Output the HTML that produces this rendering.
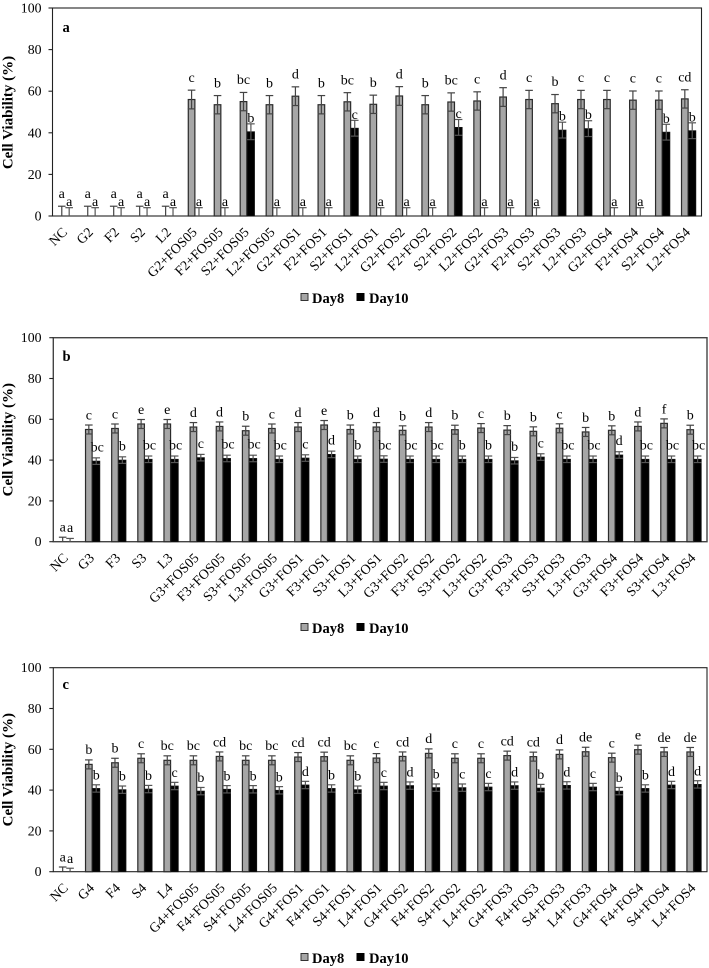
<!DOCTYPE html>
<html>
<head>
<meta charset="utf-8">
<title>Cell Viability</title>
<style>
html,body{margin:0;padding:0;background:#fff;}
svg{display:block;font-family:"Liberation Serif",serif;filter:blur(0.3px);}
</style>
</head>
<body>
<svg id="figure" width="709" height="968" viewBox="0 0 709 968" xmlns="http://www.w3.org/2000/svg"></svg>
<script>
const yTickLabels = [0, 20, 40, 60, 80, 100];

const categoriesA = ["NC","G2","F2","S2","L2","G2+FOS05","F2+FOS05","S2+FOS05","L2+FOS05","G2+FOS1","F2+FOS1","S2+FOS1","L2+FOS1","G2+FOS2","F2+FOS2","S2+FOS2","L2+FOS2","G2+FOS3","F2+FOS3","S2+FOS3","L2+FOS3","G2+FOS4","F2+FOS4","S2+FOS4","L2+FOS4"];
const day8A = [0,0,0,0,0,56,53.5,55,53.5,57.6,53.5,54.9,53.7,57.7,53.5,54.8,55.3,57.2,56,54,56,56,55.7,55.7,56.3];
const day10A = [0,0,0,0,0,0,0,40.5,0,0,0,42.2,0,0,0,42.6,0,0,0,41.3,42,0,0,40.3,41];
const day8ErrA = [4.7,4.7,4.7,4.7,4.7,4.5,4.4,4.4,4.4,4.5,4.4,4.4,4.4,4.5,4.4,4.4,4.4,4.5,4.4,4.4,4.4,4.4,4.4,4.4,4.4];
const day10ErrA = [4,4,4,4,4,4,4,3.8,4,4,4,3.8,4,4,4,3.8,4,4,4,3.8,3.8,4,4,3.8,3.8];
const day8LettersA = ["a","a","a","a","a","c","b","bc","b","d","b","bc","b","d","b","bc","c","d","c","b","c","c","c","c","cd"];
const day10LettersA = ["a","a","a","a","a","a","a","b","a","a","a","c","a","a","a","c","a","a","a","b","b","a","a","b","b"];

const categoriesB = ["NC","G3","F3","S3","L3","G3+FOS05","F3+FOS05","S3+FOS05","L3+FOS05","G3+FOS1","F3+FOS1","S3+FOS1","L3+FOS1","G3+FOS2","F3+FOS2","S3+FOS2","L3+FOS2","G3+FOS3","F3+FOS3","S3+FOS3","L3+FOS3","G3+FOS4","F3+FOS4","S3+FOS4","L3+FOS4"];
const day8B = [0,55,55.5,57.7,57.7,56.2,56.5,54.4,55.5,56.2,57.2,55,56.2,54.6,56.2,54.9,55.7,54.7,54.1,55.6,53.8,54.6,56.5,58,54.9];
const day10B = [0,39.5,40,40.4,40.4,41.2,40.8,40.8,40.4,41,42.8,40.4,40.5,40.4,40.4,40.4,40.4,39.7,41.5,40.4,40.4,42.5,40.4,40.4,40.4];
const day8ErrB = [2.2,2.2,2.2,2.2,2.2,2.2,2.2,2.2,2.2,2.2,2.2,2.2,2.2,2.2,2.2,2.2,2.2,2.2,2.2,2.2,2.2,2.2,2.2,2.2,2.2];
const day10ErrB = [1.6,1.6,1.6,1.6,1.6,1.6,1.6,1.6,1.6,1.6,1.6,1.6,1.6,1.6,1.6,1.6,1.6,1.6,1.6,1.6,1.6,1.6,1.6,1.6,1.6];
const day8LettersB = ["a","c","c","e","e","d","d","b","c","d","e","b","d","b","d","b","c","b","b","c","b","b","d","f","b"];
const day10LettersB = ["a","bc","b","bc","bc","c","bc","bc","bc","c","d","b","bc","bc","bc","b","b","b","c","bc","bc","d","bc","bc","bc"];

const categoriesC = ["NC","G4","F4","S4","L4","G4+FOS05","F4+FOS05","S4+FOS05","L4+FOS05","G4+FOS1","F4+FOS1","S4+FOS1","L4+FOS1","G4+FOS2","F4+FOS2","S4+FOS2","L4+FOS2","G4+FOS3","F4+FOS3","S4+FOS3","L4+FOS3","G4+FOS4","F4+FOS4","S4+FOS4","L4+FOS4"];
const day8C = [0,52.6,53.4,55.6,54.6,54.6,56.5,54.6,54.6,56.2,56.4,54.6,55.7,56.5,58,55.6,55.6,56.9,56.4,57.5,58.8,55.9,59.8,58.7,58.7];
const day10C = [0,40.8,40.2,40.5,42,39.5,40.4,40.4,39.9,42.5,40.8,40.2,42,42.2,41.2,41.2,41.5,42.2,41,42.3,41.5,39.5,40.8,42.5,42.8];
const day8ErrC = [2.3,2.2,2.2,2.2,2.2,2.2,2.2,2.2,2.2,2.2,2.2,2.2,2.2,2.2,2.2,2.2,2.2,2.2,2.2,2.2,2.2,2.2,2.2,2.2,2.2];
const day10ErrC = [1.7,1.8,1.8,1.8,1.8,1.8,1.8,1.8,1.8,1.8,1.8,1.8,1.8,1.8,1.8,1.8,1.8,1.8,1.8,1.8,1.8,1.8,1.8,1.8,1.8];
const day8LettersC = ["a","b","b","c","bc","bc","cd","bc","bc","cd","cd","bc","c","cd","d","c","c","cd","cd","d","de","c","e","de","de"];
const day10LettersC = ["a","b","b","b","c","b","b","b","b","d","b","b","c","d","b","c","c","d","b","d","c","b","b","d","d"];

const SVG_NS = "http://www.w3.org/2000/svg";
const figure = document.getElementById("figure");

function make(parent, tag, attrs, text) {
  const el = document.createElementNS(SVG_NS, tag);
  for (const k in attrs) el.setAttribute(k, attrs[k]);
  if (text !== undefined) el.textContent = text;
  parent.appendChild(el);
  return el;
}

function drawErrorBar(g, x, yFn, value, err, color, showLower, name) {
  const eb = make(g, "g", {stroke: color, "stroke-width": 1.2, fill: "none"});
  
  
  const top = yFn(value + err);
  const low = showLower ? yFn(value - err) : yFn(value);
  make(eb, "line", {x1: x, x2: x, y1: top, y2: low});
  make(eb, "line", {x1: x - 3.8, x2: x + 3.8, y1: top, y2: top});
  if (showLower) make(eb, "line", {x1: x - 3.8, x2: x + 3.8, y1: low, y2: low});
}

function drawPanel(p) {
  const g = make(figure, "g", {});
  
  

  const xBand = (i) => p.left + (p.right - p.left) * (i + 0.5) / p.categories.length;
  const yScale = (v) => p.bottom - (p.bottom - p.top) * v / 100;

  const frame = make(g, "rect", {x: p.left, y: p.top, width: p.right - p.left, height: p.bottom - p.top, fill: "#fff", stroke: p.frameColor, "stroke-width": p.frameWidth});
  
  

  yTickLabels.forEach((t) => {
    const y = yScale(t);
    const tick = make(g, "line", {x1: p.left - 4, x2: p.left, y1: y, y2: y, stroke: "#222", "stroke-width": 1.1});
    
    
    const lab = make(g, "text", {x: 41.5, y: y + 4.5, "text-anchor": "end", "font-size": 13.8, fill: "#000"}, t);
    
    
  });

  const title = make(g, "text", {transform: "translate(12.5," + p.titleY + ") rotate(-90)", "text-anchor": "middle", "font-size": 15, "font-weight": "bold", fill: "#000"}, "Cell Viability (%)");
  
  

  const tag = make(g, "text", {x: 62.5, y: p.tagY, "font-size": 14.5, "font-weight": "bold", fill: "#000"}, p.letter);
  
  

  p.categories.forEach((cat, i) => {
    const c = xBand(i);
    const xG = c - 3.7;
    const xB = c + 3.7;
    const v8 = p.day8[i];
    const v10 = p.day10[i];
    if (v8 > 0) {
      const b = make(g, "rect", {x: xG - 3.3, y: yScale(v8), width: 6.6, height: yScale(0) - yScale(v8), fill: "#a6a6a6", stroke: "#2b2b2b", "stroke-width": 1.2});
      
      
    }
    if (v10 > 0) {
      const b = make(g, "rect", {x: xB - 3.6, y: yScale(v10), width: 7.2, height: yScale(0) - yScale(v10), fill: "#000", stroke: "#111", "stroke-width": 0.8});
      
      
    }
    drawErrorBar(g, xG, yScale, v8, p.day8Err[i], "#444", v8 > 0, 'error-bar-day8');
    drawErrorBar(g, xB, yScale, v10, p.day10Err[i], "#555", v10 > 0, 'error-bar-day10');

    const l8 = make(g, "text", {x: xG, y: yScale(v8 + p.day8Err[i]) - p.offset8, "text-anchor": "middle", "font-size": 14, fill: "#000"}, p.day8Letters[i]);
    
    
    const l10 = make(g, "text", {x: xB + (p.day10Letters[i].length > 1 ? 1 : 0), y: yScale(v10 + p.day10Err[i]) - p.offset10, "text-anchor": "middle", "font-size": 14, fill: "#000"}, p.day10Letters[i]);
    
    

    const xl = make(g, "text", {transform: "translate(" + (c + 2.5) + "," + (p.bottom + 17) + ") rotate(-45)", "text-anchor": "end", "font-size": 13.8, fill: "#000"}, cat);
    
    
  });

  const legend = make(g, "g", {});
  
  
  const s8 = make(legend, "rect", {x: 301, y: p.legendY - 9.5, width: 7, height: 7, fill: "#a6a6a6", stroke: "#333", "stroke-width": 1});
  
  
  const t8 = make(legend, "text", {x: 312, y: p.legendY, "font-size": 14.5, "font-weight": "bold", fill: "#000"}, "Day8");
  
  
  const s10 = make(legend, "rect", {x: 356.5, y: p.legendY - 10, width: 8, height: 8, fill: "#000"});
  
  
  const t10 = make(legend, "text", {x: 369, y: p.legendY, "font-size": 14.5, "font-weight": "bold", fill: "#000"}, "Day10");
  
  
}

drawPanel({letter: "a", left: 52.5, right: 701.5, top: 8, bottom: 216, titleY: 112.5, tagY: 32, legendY: 303, frameColor: "#222", frameWidth: 1.1, offset8: 8.3, offset10: 1.5,
  categories: categoriesA, day8: day8A, day10: day10A, day8Err: day8ErrA, day10Err: day10ErrA, day8Letters: day8LettersA, day10Letters: day10LettersA});
drawPanel({letter: "b", left: 53.3, right: 707, top: 337.7, bottom: 541.7, titleY: 439.7, tagY: 361, legendY: 633, frameColor: "#444", frameWidth: 1.4, offset8: 5.5, offset10: 6.5,
  categories: categoriesB, day8: day8B, day10: day10B, day8Err: day8ErrB, day10Err: day10ErrB, day8Letters: day8LettersB, day10Letters: day10LettersB});
drawPanel({letter: "c", left: 53.3, right: 707, top: 667.7, bottom: 871.7, titleY: 769.7, tagY: 689, legendY: 963, frameColor: "#222", frameWidth: 1.1, offset8: 5.7, offset10: 5.3,
  categories: categoriesC, day8: day8C, day10: day10C, day8Err: day8ErrC, day10Err: day10ErrC, day8Letters: day8LettersC, day10Letters: day10LettersC});
</script>
</body>
</html>
